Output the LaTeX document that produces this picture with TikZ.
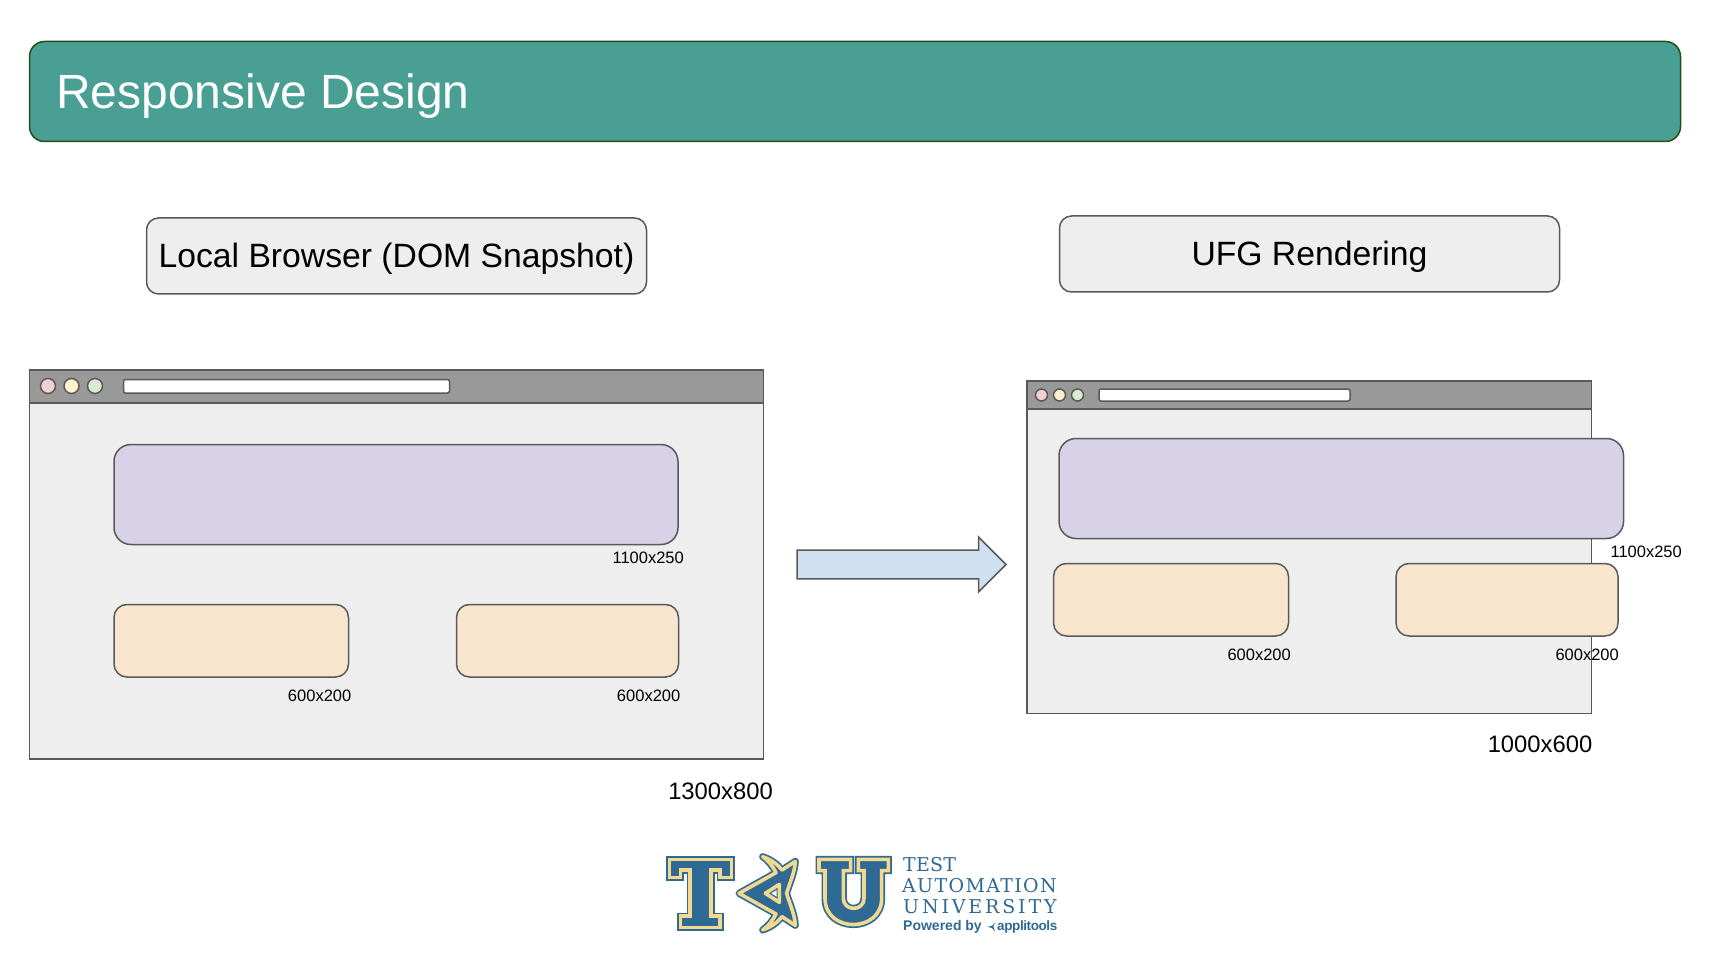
\documentclass[tikz,border=0pt]{standalone}
\usepackage{fontspec}
\usepackage{tikz}
\usetikzlibrary{shapes.arrows}
\setmainfont{Liberation Sans}
\newfontfamily\logofont{DejaVu Serif}

\definecolor{tealBar}{HTML}{4A9F94}
\definecolor{tealEdge}{HTML}{274E13}
\definecolor{pane}{HTML}{EEEEEE}
\definecolor{chrome}{HTML}{999999}
\definecolor{edge}{HTML}{595959}
\definecolor{purpleBox}{HTML}{D7D2E8}
\definecolor{orangeBox}{HTML}{F8E5CE}
\definecolor{arrowBlue}{HTML}{CFE0F1}
\definecolor{tauBlue}{HTML}{2F6A94}
\definecolor{tauYellow}{HTML}{F2D98F}

\begin{document}
\begin{tikzpicture}[x=1pt,y=-1pt,
      box/.style = {rectangle, draw=edge, line width=1.5pt, inner sep=0pt, outer sep=0pt, anchor=north west},
      window/.style = {box, fill=pane},
      bar/.style = {box, fill=chrome},
      address/.style = {box, fill=white, rounded corners=2pt},
      head/.style = {box, fill=pane, rounded corners=12pt, text height=24pt, text depth=0pt, font=\fontsize{33.7}{36}\selectfont},
      wide/.style = {box, fill=purpleBox, rounded corners=17pt},
      small/.style = {box, fill=orangeBox, rounded corners=13pt},
      dot/.style = {circle, draw=edge, line width=1.5pt, inner sep=0pt, outer sep=0pt},
      size/.style = {inner sep=0pt, anchor=east, font=\fontsize{16.5}{18}\selectfont},
      total/.style = {inner sep=0pt, anchor=east, font=\fontsize{23.8}{26}\selectfont},
      logo/.style = {preaction={draw=tauBlue, line width=7pt}, draw=tauYellow, line width=3.6pt, fill=tauBlue},
      logotext/.style = {inner sep=0pt, anchor=base west, text=tauBlue}]

  \fill[white] (0,0) rectangle (1718,965);
  \useasboundingbox (0,0) rectangle (1718,965);

  % Banner
  \node[box,draw=tealEdge,fill=tealBar,rounded corners=15pt,minimum width=1651,minimum height=100] (banner) at (29.5,41.5) {};
  \node[inner sep=0pt,anchor=base west,text=white,font=\fontsize{48}{50}\selectfont] (title) at (56,109) {Responsive Design};

  % Headings
  \node[head,minimum width=500,minimum height=76] (localhead) at (146.5,218) {Local Browser (DOM Snapshot)};
  \node[head,minimum width=500,minimum height=76] (ufghead) at (1059.5,216) {UFG Rendering};

  % Local browser
  \node[window,minimum width=734,minimum height=389] (localwin) at (29.5,370) {};
  \node[bar,minimum width=734,minimum height=33] (localbar) at (29.5,370) {};
  \foreach \name/\x/\col in {a/48/F0CFCF,b/71.5/FFF2CC,c/95/D9EAD3} {
    \definecolor{dotcol}{HTML}{\col}
    \node[dot,fill=dotcol,minimum size=15] (local\name) at (\x,386) {};
  }
  \node[address,minimum width=326,minimum height=13.5] (localurl) at (123.5,379.5) {};
  \node[wide,minimum width=564,minimum height=100] (localwide) at (114,444.5) {};
  \node[small,minimum width=234.5,minimum height=72.5] (localleft) at (114,604.5) {};
  \node[small,minimum width=222,minimum height=72.5] (localright) at (456.5,604.5) {};
  \node[size] (localwidesize) at (684,558) {1100x250};
  \node[size] (localleftsize) at (351.5,696) {600x200};
  \node[size] (localrightsize) at (680.5,696) {600x200};
  \node[total] (localsize) at (773,791) {1300x800};

  % Arrow
  \node[single arrow,draw=edge,fill=arrowBlue,line width=1.5pt,inner sep=0pt,outer sep=0pt,
        text height=14pt,text depth=0pt,minimum height=209,minimum width=55,
        single arrow tip angle=90,single arrow head indent=0pt,anchor=west] (arrow) at (797,564.5) {};

  % UFG browser
  \node[window,minimum width=564.5,minimum height=332.5] (ufgwin) at (1027,381) {};
  \node[bar,minimum width=564.5,minimum height=28] (ufgbar) at (1027,381) {};
  \foreach \name/\x/\col in {a/1041.5/F0CFCF,b/1059.5/FFF2CC,c/1077.5/D9EAD3} {
    \definecolor{dotcol}{HTML}{\col}
    \node[dot,fill=dotcol,minimum size=12] (ufg\name) at (\x,395) {};
  }
  \node[address,minimum width=251,minimum height=12] (ufgurl) at (1099,389) {};
  \node[wide,minimum width=564.5,minimum height=100] (ufgwide) at (1059,438.5) {};
  \node[small,minimum width=235,minimum height=72.5] (ufgleft) at (1053.5,563.5) {};
  \node[small,minimum width=222,minimum height=72.5] (ufgright) at (1396,563.5) {};
  \node[size] (ufgwidesize) at (1682,552) {1100x250};
  \node[size] (ufgleftsize) at (1291,655) {600x200};
  \node[size] (ufgrightsize) at (1619,655) {600x200};
  \node[total] (ufgsize) at (1592.5,744) {1000x600};

  % Logo
  \begin{scope}[shift={(640,830)},scale=1/3]
    \path[logo] (88,88) -- (275,88) -- (275,143) -- (240,143) -- (240,120) -- (213,120) -- (213,258)
      -- (240,258) -- (240,293) -- (122,293) -- (122,258) -- (150,258) -- (150,120) -- (122,120)
      -- (122,143) -- (88,143) -- cycle;
    \begin{scope}[line join=round]
      \path[logo] (297,190) -- (408,128) .. controls (398,108) and (385,92) .. (368,80)
        .. controls (392,88) and (412,102) .. (426,120) -- (466,94) .. controls (464,130) and (448,160) .. (440,190)
        .. controls (448,220) and (464,250) .. (466,286) -- (426,260)
        .. controls (412,278) and (392,292) .. (368,300) .. controls (385,288) and (398,272) .. (408,252) -- cycle;
      \path[draw=tauYellow,line width=3.6pt,fill=tauBlue] (376,190) -- (418,163) -- (418,217) -- cycle;
    \end{scope}
    \fill[white] (394,190) -- (410,180) -- (410,200) -- cycle;
    \path[logo] (537,88) -- (632,88) -- (632,122) -- (610,122) -- (610,205)
      .. controls (610,245) and (672,245) .. (672,205) -- (672,122) -- (655,122) -- (655,88)
      -- (745,88) -- (745,122) -- (725,122) -- (725,205)
      .. controls (725,310) and (555,310) .. (555,205) -- (555,122) -- (537,122) -- cycle;
    \fill[tauBlue] (1065,278) -- (1056,288) -- (1041,290) -- (1056,294) -- (1065,305) -- (1060,290) -- cycle;
  \end{scope}
  \node[logotext,font=\logofont\fontsize{19}{22}\selectfont\addfontfeatures{LetterSpace=1}] (tautest) at (903,871) {TEST};
  \node[logotext,font=\logofont\fontsize{19}{22}\selectfont\addfontfeatures{LetterSpace=7}] (tauauto) at (902,892) {AUTOMATION};
  \node[logotext,font=\logofont\fontsize{19}{22}\selectfont\addfontfeatures{LetterSpace=15}] (tauuni) at (903,913) {UNIVERSITY};
  \node[logotext,font=\bfseries\fontsize{14}{15}\selectfont] (taupowered) at (903,930) {Powered by};
  \node[logotext,font=\bfseries\fontsize{13.5}{15}\selectfont\addfontfeatures{LetterSpace=-3}] (tauappli) at (997,930) {applitools};
\end{tikzpicture}
\end{document}
